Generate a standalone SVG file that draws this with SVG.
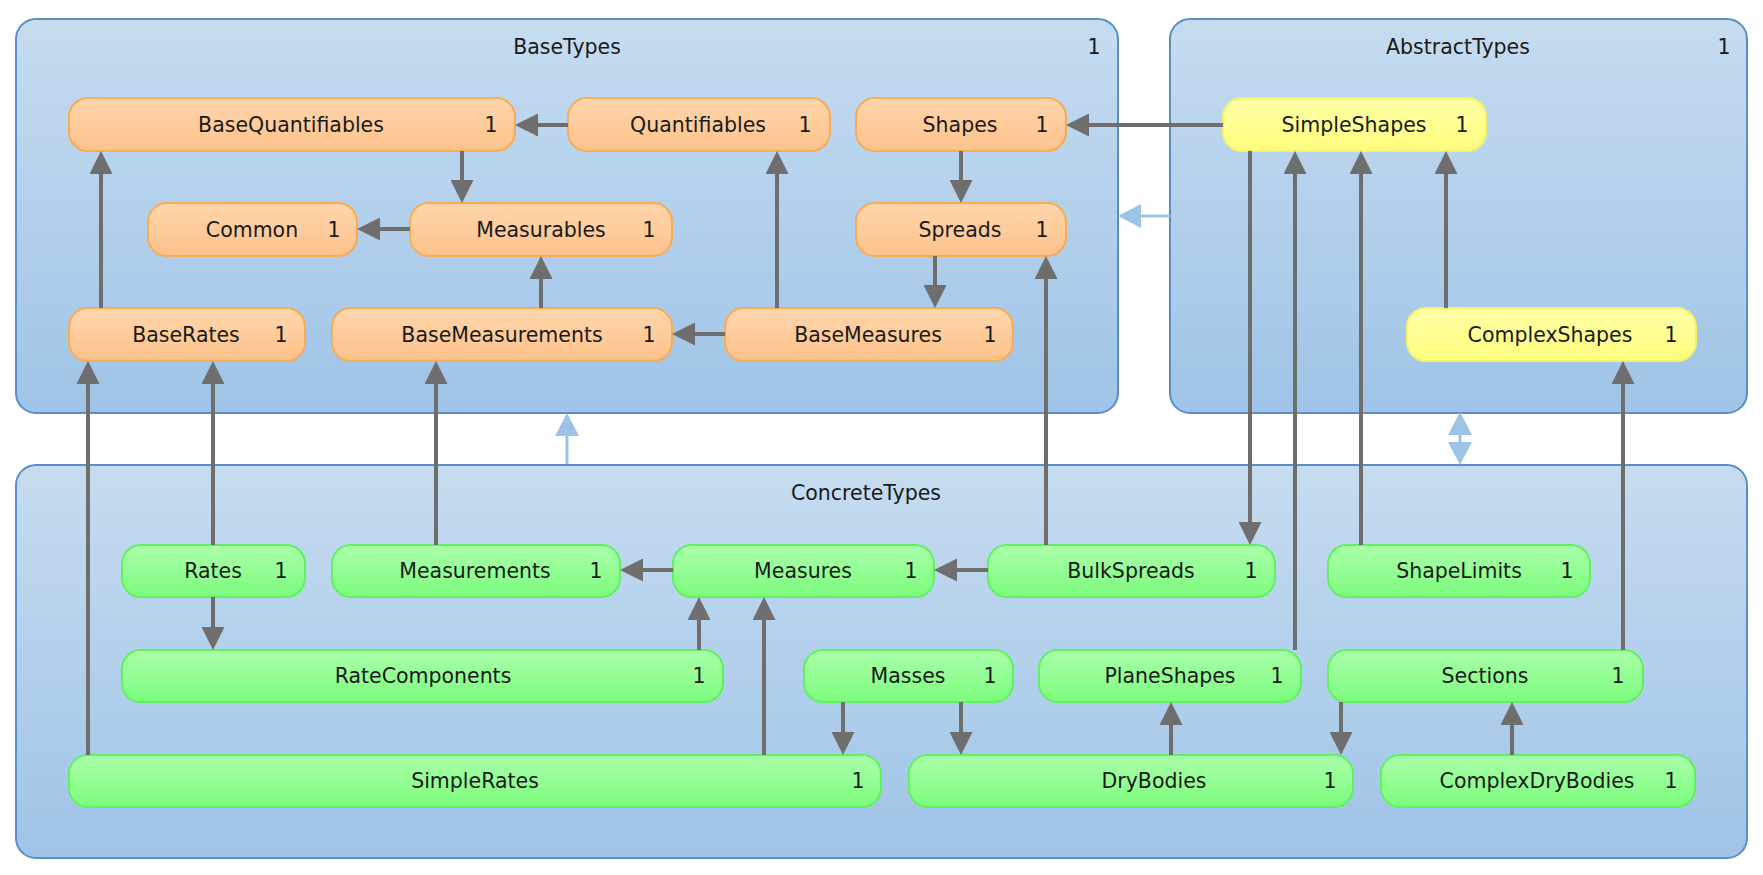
<svg xmlns="http://www.w3.org/2000/svg" width="1763" height="875" viewBox="0 0 1763 875">
<defs>
<linearGradient id="gGrp" x1="0" y1="0" x2="0" y2="1"><stop offset="0" stop-color="#c6dcf0"/><stop offset="1" stop-color="#9fc4e7"/></linearGradient>
<linearGradient id="gOr" x1="0" y1="0" x2="0" y2="1"><stop offset="0" stop-color="#ffd6ab"/><stop offset="1" stop-color="#fdc28c"/></linearGradient>
<linearGradient id="gGr" x1="0" y1="0" x2="0" y2="1"><stop offset="0" stop-color="#aaffaa"/><stop offset="1" stop-color="#7dfc7d"/></linearGradient>
<linearGradient id="gYe" x1="0" y1="0" x2="0" y2="1"><stop offset="0" stop-color="#ffffa6"/><stop offset="1" stop-color="#fdfd7e"/></linearGradient>
<marker id="ag" markerUnits="userSpaceOnUse" markerWidth="23" markerHeight="23" refX="19" refY="11.5" orient="auto"><path d="M0,0 L23,11.5 L0,23 z" fill="#6e6e6e"/></marker>
<marker id="ab" markerUnits="userSpaceOnUse" markerWidth="23" markerHeight="24" refX="19" refY="12" orient="auto-start-reverse"><path d="M0,0 L23,12 L0,24 z" fill="#9dc3e6"/></marker>
</defs>
<style>
text{font-family:"DejaVu Sans",sans-serif;font-size:20.5px;fill:#1a1a1a;text-anchor:middle}
.grp{fill:url(#gGrp);stroke:#5b8dcb;stroke-width:2}
.or{fill:url(#gOr);stroke:#f9ab55;stroke-width:2}
.gr{fill:url(#gGr);stroke:#5ef25e;stroke-width:2}
.ye{fill:url(#gYe);stroke:#f3f36a;stroke-width:2}
.c{fill:none;stroke:#6e6e6e;stroke-width:4;marker-end:url(#ag)}
.cb{fill:none;stroke:#9dc3e6;stroke-width:3;marker-end:url(#ab)}
</style>
<rect width="1763" height="875" fill="#ffffff"/>
<g id="BaseTypes"><rect class="grp" x="16" y="19" width="1102" height="394" rx="20"/><text x="567" y="54">BaseTypes</text><text x="1094" y="54">1</text></g>
<g id="AbstractTypes"><rect class="grp" x="1170" y="19" width="577" height="394" rx="20"/><text x="1458" y="54">AbstractTypes</text><text x="1724" y="54">1</text></g>
<g id="ConcreteTypes"><rect class="grp" x="16" y="465" width="1731" height="393" rx="20"/><text x="866" y="500">ConcreteTypes</text></g>

<g id="BaseQuantifiables"><rect class="or" x="69" y="98" width="446" height="53" rx="19"/><text x="291" y="132">BaseQuantifiables</text><text x="491" y="132">1</text></g>
<g id="Quantifiables"><rect class="or" x="568" y="98" width="262" height="53" rx="19"/><text x="698" y="132">Quantifiables</text><text x="805" y="132">1</text></g>
<g id="Shapes"><rect class="or" x="856" y="98" width="210" height="53" rx="19"/><text x="960" y="132">Shapes</text><text x="1042" y="132">1</text></g>
<g id="Common"><rect class="or" x="148" y="203" width="209" height="53" rx="19"/><text x="252" y="237">Common</text><text x="334" y="237">1</text></g>
<g id="Measurables"><rect class="or" x="410" y="203" width="262" height="53" rx="19"/><text x="541" y="237">Measurables</text><text x="649" y="237">1</text></g>
<g id="Spreads"><rect class="or" x="856" y="203" width="210" height="53" rx="19"/><text x="960" y="237">Spreads</text><text x="1042" y="237">1</text></g>
<g id="BaseRates"><rect class="or" x="69" y="308" width="236" height="53" rx="19"/><text x="186" y="342">BaseRates</text><text x="281" y="342">1</text></g>
<g id="BaseMeasurements"><rect class="or" x="332" y="308" width="340" height="53" rx="19"/><text x="502" y="342">BaseMeasurements</text><text x="649" y="342">1</text></g>
<g id="BaseMeasures"><rect class="or" x="725" y="308" width="288" height="53" rx="19"/><text x="868" y="342">BaseMeasures</text><text x="990" y="342">1</text></g>

<g id="SimpleShapes"><rect class="ye" x="1223" y="98" width="263" height="53" rx="19"/><text x="1354" y="132">SimpleShapes</text><text x="1462" y="132">1</text></g>
<g id="ComplexShapes"><rect class="ye" x="1407" y="308" width="289" height="53" rx="19"/><text x="1550" y="342">ComplexShapes</text><text x="1671" y="342">1</text></g>

<g id="Rates"><rect class="gr" x="122" y="545" width="183" height="52" rx="19"/><text x="213" y="578">Rates</text><text x="281" y="578">1</text></g>
<g id="Measurements"><rect class="gr" x="332" y="545" width="288" height="52" rx="19"/><text x="475" y="578">Measurements</text><text x="596" y="578">1</text></g>
<g id="Measures"><rect class="gr" x="673" y="545" width="261" height="52" rx="19"/><text x="803" y="578">Measures</text><text x="911" y="578">1</text></g>
<g id="BulkSpreads"><rect class="gr" x="988" y="545" width="287" height="52" rx="19"/><text x="1131" y="578">BulkSpreads</text><text x="1251" y="578">1</text></g>
<g id="ShapeLimits"><rect class="gr" x="1328" y="545" width="262" height="52" rx="19"/><text x="1459" y="578">ShapeLimits</text><text x="1567" y="578">1</text></g>
<g id="RateComponents"><rect class="gr" x="122" y="650" width="601" height="52" rx="19"/><text x="423" y="683">RateComponents</text><text x="699" y="683">1</text></g>
<g id="Masses"><rect class="gr" x="804" y="650" width="209" height="52" rx="19"/><text x="908" y="683">Masses</text><text x="990" y="683">1</text></g>
<g id="PlaneShapes"><rect class="gr" x="1039" y="650" width="262" height="52" rx="19"/><text x="1170" y="683">PlaneShapes</text><text x="1277" y="683">1</text></g>
<g id="Sections"><rect class="gr" x="1328" y="650" width="315" height="52" rx="19"/><text x="1485" y="683">Sections</text><text x="1618" y="683">1</text></g>
<g id="SimpleRates"><rect class="gr" x="69" y="755" width="812" height="52" rx="19"/><text x="475" y="788">SimpleRates</text><text x="858" y="788">1</text></g>
<g id="DryBodies"><rect class="gr" x="909" y="755" width="444" height="52" rx="19"/><text x="1154" y="788">DryBodies</text><text x="1330" y="788">1</text></g>
<g id="ComplexDryBodies"><rect class="gr" x="1381" y="755" width="314" height="52" rx="19"/><text x="1537" y="788">ComplexDryBodies</text><text x="1671" y="788">1</text></g>

<g id="connectors">
<path class="c" d="M568,125 H519"/>
<path class="c" d="M462,151 V199"/>
<path class="c" d="M410,229 H361"/>
<path class="c" d="M101,308 V155"/>
<path class="c" d="M541,308 V260"/>
<path class="c" d="M725,334 H676"/>
<path class="c" d="M777,308 V155"/>
<path class="c" d="M961,151 V199"/>
<path class="c" d="M935,256 V304"/>
<path class="c" d="M1223,125 H1070"/>
<path class="c" d="M1046,545 V260"/>
<path class="c" d="M1250,151 V541"/>
<path class="c" d="M1295,650 V155"/>
<path class="c" d="M1361,545 V155"/>
<path class="c" d="M1446,308 V155"/>
<path class="c" d="M1623,650 V365"/>
<path class="c" d="M88,755 V365"/>
<path class="c" d="M213,545 V365"/>
<path class="c" d="M436,545 V365"/>
<path class="c" d="M213,597 V646"/>
<path class="c" d="M673,570 H624"/>
<path class="c" d="M988,570 H938"/>
<path class="c" d="M699,650 V601"/>
<path class="c" d="M764,755 V601"/>
<path class="c" d="M843,702 V751"/>
<path class="c" d="M961,702 V751"/>
<path class="c" d="M1171,755 V706"/>
<path class="c" d="M1341,702 V751"/>
<path class="c" d="M1512,755 V706"/>
<path class="cb" d="M1170,216 H1122"/>
<path class="cb" d="M567,464 V417"/>
<path class="cb" d="M1460,416 V461" marker-start="url(#ab)"/>
</g>
</svg>
